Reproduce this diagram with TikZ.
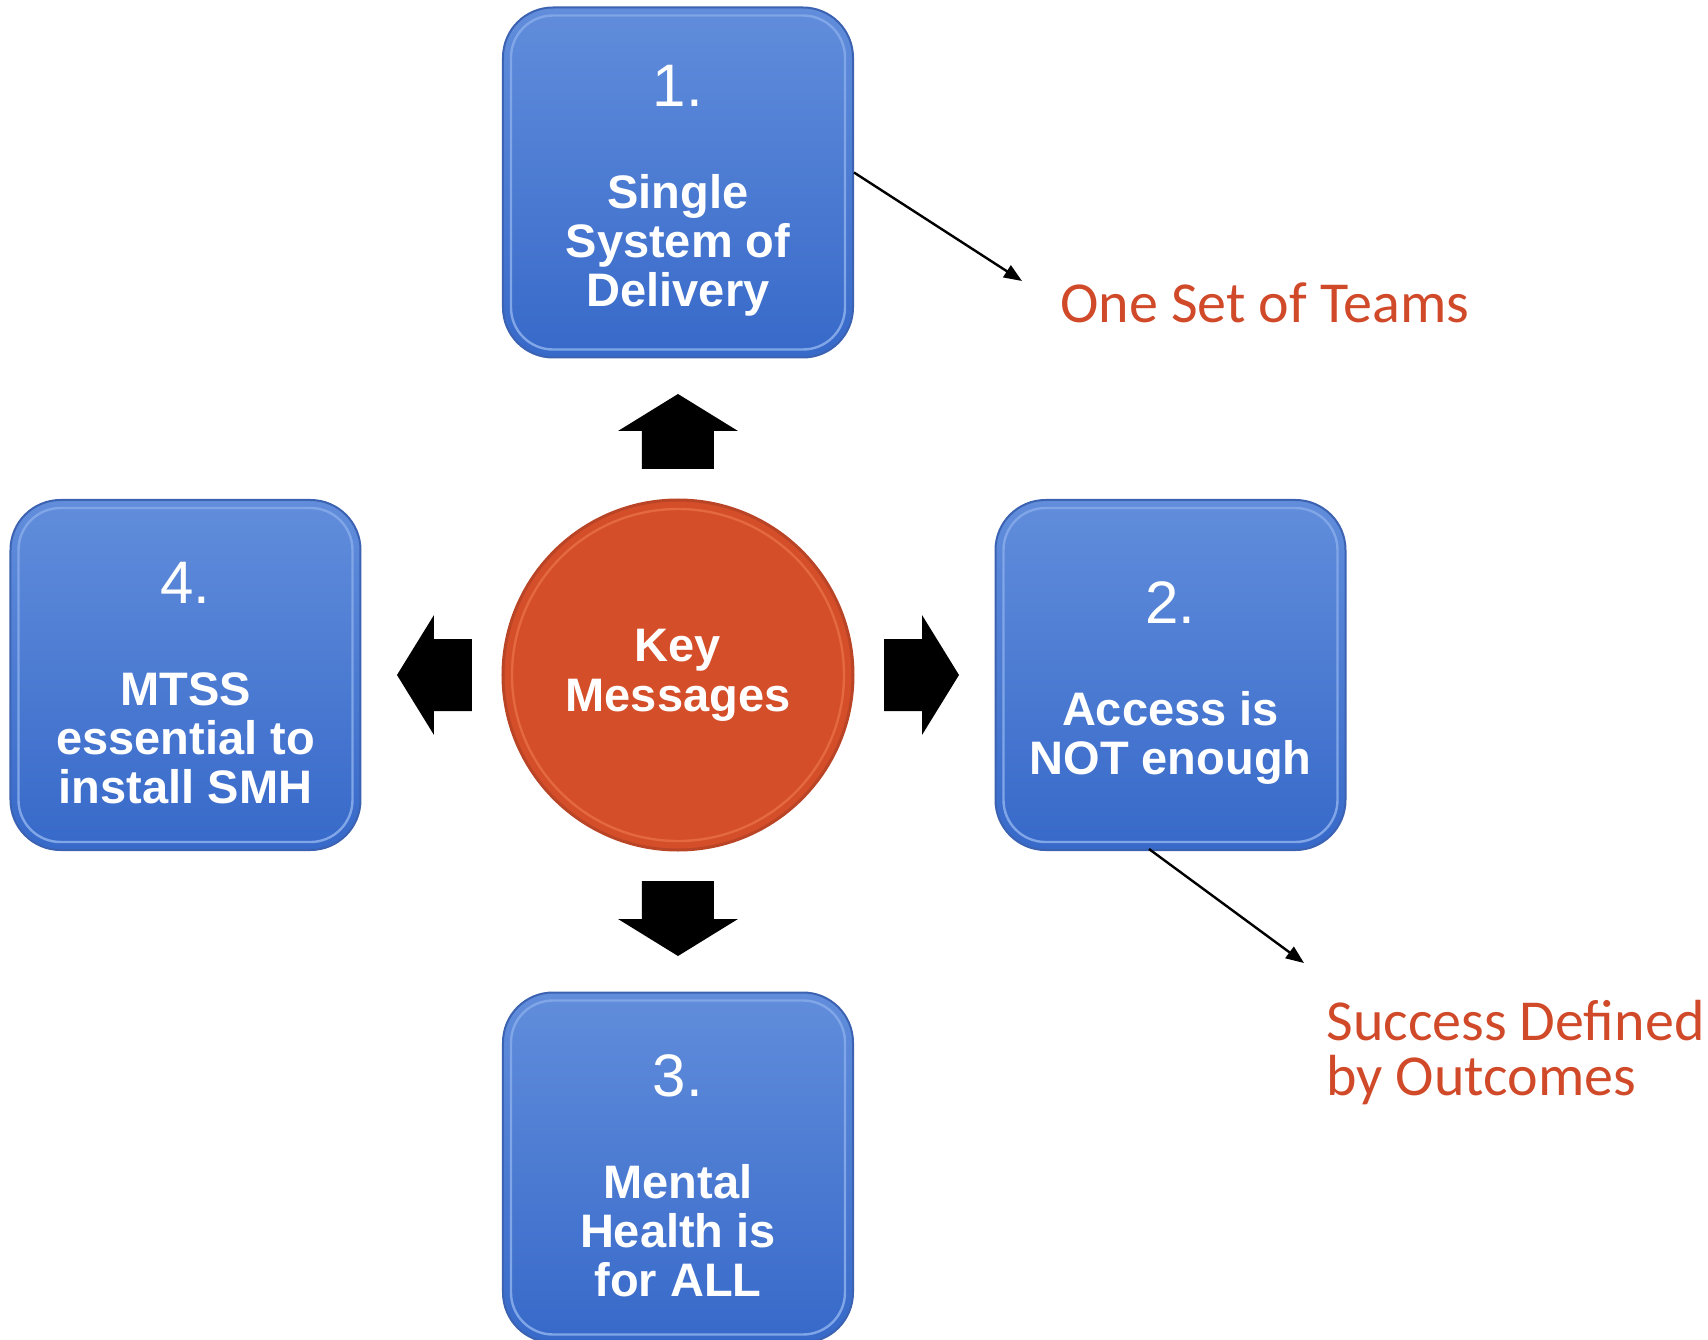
\documentclass[tikz,border=0pt]{standalone}
\usepackage{fontspec}
\setmainfont{Liberation Sans}
\newfontfamily\notefont{Carlito}
\usetikzlibrary{positioning,arrows.meta}

\definecolor{boxtop}{RGB}{97,141,219}
\definecolor{boxbottom}{RGB}{55,105,201}
\definecolor{boxline}{RGB}{60,98,178}
\definecolor{boxrim}{RGB}{128,166,232}
\definecolor{keyfill}{RGB}{212,78,41}
\definecolor{keyline}{RGB}{186,68,38}
\definecolor{keyrim}{RGB}{228,104,64}
\definecolor{notered}{RGB}{208,74,42}

\tikzset{
  msgbox/.style={draw=boxline, line width=1pt, top color=boxtop, bottom color=boxbottom,
    rounded corners=25pt, minimum width=175pt, minimum height=175pt, inner sep=0pt,
    align=center, text=white, font=\bfseries\fontsize{23.5}{24.5}\selectfont,
    path picture={\draw [boxrim, line width=1.2pt, rounded corners=21pt]
      ([shift={(4pt,4pt)}]path picture bounding box.south west) rectangle
      ([shift={(-4pt,-4pt)}]path picture bounding box.north east);}},
  keycircle/.style={circle, draw=keyline, line width=1.5pt, fill=keyfill, minimum size=175pt,
    inner sep=0pt, align=center, text=white, font=\bfseries\fontsize{23.5}{25}\selectfont,
    path picture={\draw [keyrim, line width=1.2pt]
      (path picture bounding box.center) circle (83pt);}},
  note/.style={text=notered, font=\notefont\fontsize{29}{27.5}\selectfont, inner sep=0pt, align=left},
  blockarrow/.style={fill=black},
  pointer/.style={->, line width=1.2pt}
}
\newcommand{\boxnum}[1]{{\mdseries\fontsize{30}{30}\selectfont\rule{0pt}{29pt}#1}\\[26.5pt]}

\begin{document}
\begin{tikzpicture}[node distance=70pt, >={Triangle[length=9pt,width=7pt]}]
    \useasboundingbox (-339pt,-332pt) rectangle (515pt,337.5pt);
    \node [keycircle] (key) at (0,0) {Key\\Messages};
    \node [msgbox, above=of key] (single) {\boxnum{1.}Single\\System of\\Delivery};
    \node [msgbox, right=of key] (access) {\boxnum{2.}Access is\\NOT enough};
    \node [msgbox, below=of key] (health) {\boxnum{3.}Mental\\Health is\\for ALL};
    \node [msgbox, left=of key] (mtss) {\boxnum{4.}MTSS\\essential to\\install SMH};
    % block arrows round the circle
    \foreach \ang in {0,90,180,270}
        \fill [blockarrow, rotate around={\ang:(key.center)}]
            (103pt,-18pt) -- (122pt,-18pt) -- (122pt,-30pt) -- (140.5pt,0pt)
            -- (122pt,30pt) -- (122pt,18pt) -- (103pt,18pt) -- cycle;
    % notes
    \node [note, anchor=base west] (teams) at (191pt,176pt) {One Set of Teams};
    \node [note, anchor=base west] (success) at (324pt,-210pt) {Success Defined\\by Outcomes};
    \coordinate (teamsend) at (172pt,197pt);
    \coordinate (successend) at (313pt,-144pt);
    \draw [pointer] ([yshift=5pt]single.east) -- (teamsend);
    \draw [pointer] ([xshift=-10.75pt,yshift=1pt]access.south) -- (successend);
\end{tikzpicture}
\end{document}
